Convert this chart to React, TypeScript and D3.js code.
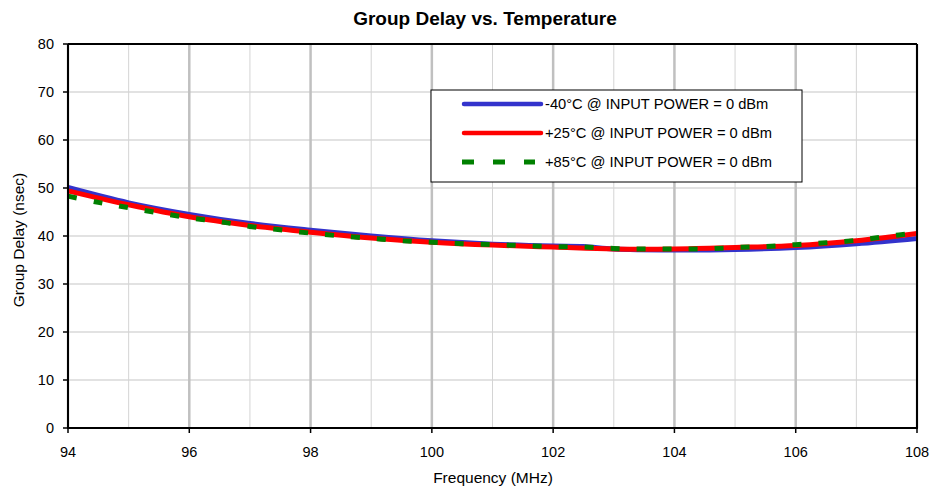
import React from "react";
import * as d3 from "d3";

const blueX = [94, 95, 96, 97, 98, 99, 100, 101, 102, 102.5, 103, 104, 105, 106, 107, 108];
const blueY = [50.1, 46.9, 44.5, 42.6, 41.2, 40.0, 39.0, 38.3, 37.9, 37.8, 37.3, 37.1, 37.2, 37.6, 38.4, 39.5];
const redX = [94, 95, 96, 97, 98, 99, 100, 101, 102, 103, 104, 105, 106, 107, 108];
const redY = [49.4, 46.5, 44.0, 42.2, 40.8, 39.6, 38.7, 38.1, 37.7, 37.3, 37.3, 37.6, 38.0, 39.0, 40.5];
const greenX = [94, 94.5, 95, 95.5, 96, 96.5, 97, 97.5, 98, 98.5, 99, 99.5, 100, 100.5, 101, 101.5, 102, 102.5, 103, 103.5, 104, 104.5, 105, 105.5, 106, 106.5, 107, 107.5, 108];
const greenY = [48.3, 47.0, 45.9, 44.8, 43.8, 43.0, 42.0, 41.3, 40.6, 40.0, 39.5, 39.0, 38.7, 38.4, 38.2, 38.0, 37.8, 37.7, 37.4, 37.3, 37.3, 37.3, 37.6, 37.8, 38.2, 38.6, 39.1, 39.9, 40.7];

const xTicks = [94, 96, 98, 100, 102, 104, 106, 108];
const xMinor = [95, 97, 99, 101, 103, 105, 107];
const yTicks = [0, 10, 20, 30, 40, 50, 60, 70, 80];
const legendLabels = [
  "-40°C @ INPUT POWER = 0 dBm",
  "+25°C @ INPUT POWER = 0 dBm",
  "+85°C @ INPUT POWER = 0 dBm",
];

export default function App() {
  const W = 931, H = 491;
  const L = 68, R = 917, T = 44, B = 428;
  const x = d3.scaleLinear().domain([94, 108]).range([L, R]);
  const y = d3.scaleLinear().domain([0, 80]).range([B, T]);
  const mk = (xs: number[], ys: number[]) =>
    d3.line<number>().x((_, i) => x(xs[i])).y((d) => y(d)).curve(d3.curveCatmullRom.alpha(0.5))(ys) || "";
  const font = "Arial, 'Liberation Sans', sans-serif";
  const lg = { x: 431, y: 90, w: 371, h: 92 };
  return (
    <svg width={W} height={H} style={{ position: "absolute", left: 0, top: 0, background: "#fff" }} fontFamily={font}>
      <rect width={W} height={H} fill="#fff" />
      <text x={485} y={25} textAnchor="middle" fontSize={19} fontWeight="bold">Group Delay vs. Temperature</text>
      {yTicks.map((t) => (
        <line key={"h" + t} x1={L} x2={R} y1={y(t)} y2={y(t)} stroke="#d9d9d9" strokeWidth={1.5} />
      ))}
      {xMinor.map((t) => (
        <line key={"m" + t} x1={x(t)} x2={x(t)} y1={T} y2={B} stroke="#d4d4d4" strokeWidth={1} />
      ))}
      {xTicks.map((t) => (
        <line key={"v" + t} x1={x(t)} x2={x(t)} y1={T} y2={B} stroke="#c0c0c0" strokeWidth={2.5} />
      ))}
      <path d={mk(blueX, blueY)} fill="none" stroke="#3333cc" strokeWidth={5} />
      <path d={mk(redX, redY)} fill="none" stroke="#ff0000" strokeWidth={5} />
      <path d={mk(greenX, greenY)} fill="none" stroke="#008000" strokeWidth={5} strokeDasharray="9,17" />
      <line x1={L} x2={R} y1={T} y2={T} stroke="#000" strokeWidth={2} />
      <line x1={R} x2={R} y1={T} y2={B} stroke="#000" strokeWidth={2} />
      <line x1={L} x2={L} y1={T} y2={B + 1} stroke="#000" strokeWidth={2} />
      <line x1={L - 1} x2={R + 1} y1={B} y2={B} stroke="#000" strokeWidth={2} />
      {yTicks.map((t) => (
        <g key={"yt" + t}>
          <line x1={L - 5} x2={L} y1={y(t)} y2={y(t)} stroke="#000" strokeWidth={1.5} />
          <text x={L - 14} y={y(t) + 5} textAnchor="end" fontSize={14.5}>{t}</text>
        </g>
      ))}
      {xTicks.map((t) => (
        <g key={"xt" + t}>
          <line x1={x(t)} x2={x(t)} y1={B} y2={B + 5} stroke="#000" strokeWidth={1.5} />
          <text x={x(t)} y={457} textAnchor="middle" fontSize={14.5}>{t}</text>
        </g>
      ))}
      <text x={493} y={483} textAnchor="middle" fontSize={15.5}>Frequency (MHz)</text>
      <text transform={`translate(24,240) rotate(-90)`} textAnchor="middle" fontSize={15.5}>Group Delay (nsec)</text>
      <rect x={lg.x} y={lg.y} width={lg.w} height={lg.h} fill="#fff" stroke="#000" strokeWidth={1} />
      {legendLabels.map((lab, i) => {
        const ly = 104 + i * 29;
        const col = ["#3333cc", "#ff0000", "#008000"][i];
        return (
          <g key={lab}>
            <line x1={i === 2 ? 462 : 464} x2={i === 2 ? 535 : 541} y1={ly} y2={ly} stroke={col} strokeWidth={i === 2 ? 5 : 4.5}
              strokeLinecap={i === 2 ? "butt" : "round"} strokeDasharray={i === 2 ? "12,19" : undefined} />
            <text x={545} y={ly + 5} fontSize={14.7}>{lab}</text>
          </g>
        );
      })}
    </svg>
  );
}
